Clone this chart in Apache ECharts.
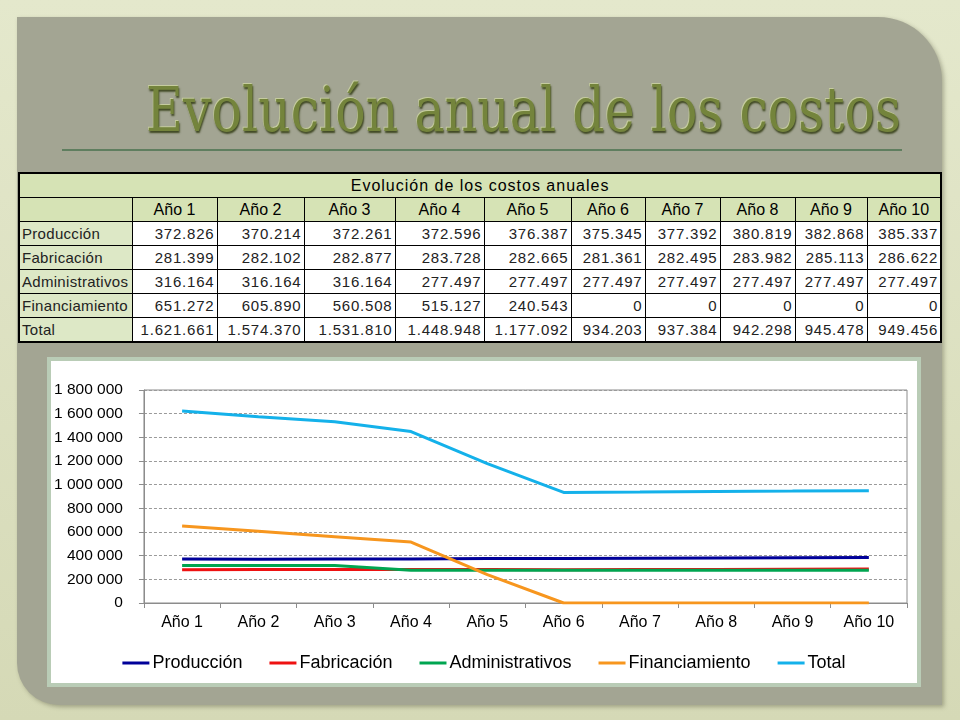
<!DOCTYPE html>
<html>
<head>
<meta charset="utf-8">
<script src="https://cdn.jsdelivr.net/npm/echarts@6/dist/echarts.min.js"></script>
<style>
  html, body { margin: 0; padding: 0; }
  body {
    width: 960px; height: 720px; overflow: hidden; position: relative;
    background: linear-gradient(180deg, #e4e8cc 0%, #d5d9b6 100%);
    font-family: "Liberation Sans", Arial, sans-serif;
  }
  #panel {
    position: absolute; left: 17px; top: 17px; width: 925px; height: 688px;
    background: #a3a593;
    border-radius: 0 64px 0 42px;
    box-shadow: 2px 2px 4px rgba(60, 60, 40, 0.35);
  }
  #title {
    position: absolute; left: 146px; top: 75px;
    display: inline-block; transform-origin: 0 0;
    font-family: "DejaVu Serif", "Liberation Serif", serif;
    font-size: 61px; line-height: 70px; color: #74843c; white-space: nowrap;
    text-shadow: 1px 2px 2px #3f4822, -1px -1px 0 #c5cc9e;
  }
  #rule {
    position: absolute; left: 62px; top: 149px; width: 840px; height: 2px;
    background: #5f7e5f;
  }
  #costTable {
    position: absolute; left: 18px; top: 172px; width: 922px;
    border-collapse: collapse; border: 2px solid #000;
    font-size: 15px; color: #222; background: #fff;
    table-layout: fixed;
  }
  #costTable td { border: 1px solid #000; height: 23px; padding: 0 3px; line-height: 23px; white-space: nowrap; overflow: hidden; }
  #costTable .hdr { background: #d6e3b5; text-align: center; font-size: 16px; color: #000; }
  #costTable .top { letter-spacing: 1px; }
  #costTable .lbl { background: #dde8c6; text-align: left; padding-left: 2px; letter-spacing: 0.3px; }
  #costTable .num { text-align: right; letter-spacing: 0.8px; padding-right: 2px; }
  #chartBox {
    position: absolute; left: 47px; top: 357px; width: 866px; height: 322px;
    background: #fff; border: 4px solid #b9ccb6;
  }
  #chart { position: absolute; left: 0; top: 0; width: 866px; height: 322px; }
</style>
</head>
<body>
<div id="panel"></div>
<div id="title">Evolución anual de los costos</div>
<div id="rule"></div>
<table id="costTable"></table>
<div id="chartBox"><div id="chart"></div></div>
<script>
  const years = ['Año 1', 'Año 2', 'Año 3', 'Año 4', 'Año 5', 'Año 6', 'Año 7', 'Año 8', 'Año 9', 'Año 10'];
  const produccion = [372826, 370214, 372261, 372596, 376387, 375345, 377392, 380819, 382868, 385337];
  const fabricacion = [281399, 282102, 282877, 283728, 282665, 281361, 282495, 283982, 285113, 286622];
  const administrativos = [316164, 316164, 316164, 277497, 277497, 277497, 277497, 277497, 277497, 277497];
  const financiamiento = [651272, 605890, 560508, 515127, 240543, 0, 0, 0, 0, 0];
  const total = [1621661, 1574370, 1531810, 1448948, 1177092, 934203, 937384, 942298, 945478, 949456];

  const rows = [
    { name: 'Producción', data: produccion, color: '#000099' },
    { name: 'Fabricación', data: fabricacion, color: '#ee1111' },
    { name: 'Administrativos', data: administrativos, color: '#00a550' },
    { name: 'Financiamiento', data: financiamiento, color: '#f7961e' },
    { name: 'Total', data: total, color: '#14b1ea' },
  ];

  // title: squeeze to the width of the original
  const titleEl = document.getElementById('title');
  titleEl.style.transform = `scaleX(${755 / titleEl.offsetWidth})`;

  // table
  const colWidths = [113, 85, 87, 91, 89, 87, 74, 75, 75, 72, 74];
  function fmtDots(v) {
    return String(v).replace(/\B(?=(\d{3})+(?!\d))/g, '.');
  }
  const tableEl = document.getElementById('costTable');
  let html = '<colgroup>' + colWidths.map((w) => `<col style="width:${w}px">`).join('') + '</colgroup>';
  html += '<tr><td class="hdr top" colspan="11">Evolución de los costos anuales</td></tr>';
  html += '<tr><td class="hdr"></td>' + years.map((y) => `<td class="hdr">${y}</td>`).join('') + '</tr>';
  rows.forEach((r) => {
    html += `<tr><td class="lbl">${r.name}</td>` + r.data.map((v) => `<td class="num">${fmtDots(v)}</td>`).join('') + '</tr>';
  });
  tableEl.innerHTML = html;

  // chart
  const chart = echarts.init(document.getElementById('chart'));
  const axisColor = '#8c8c8c';

  chart.setOption({
    animation: false,
    grid: { left: 89, top: 29, right: 10, bottom: 80, show: true, borderColor: axisColor, borderWidth: 1 },
    legend: {
      bottom: 6,
      left: 'center',
      icon: 'rect',
      itemWidth: 27,
      itemHeight: 3,
      itemGap: 27,
      textStyle: { color: '#000', fontFamily: 'Liberation Sans', fontSize: 18, padding: [0, 0, 0, -2] },
      data: rows.map((r) => r.name),
    },
    xAxis: {
      type: 'category',
      data: years,
      boundaryGap: true,
      axisLine: { lineStyle: { color: axisColor } },
      axisTick: { show: true, length: 5, lineStyle: { color: axisColor } },
      axisLabel: { margin: 12, color: '#000', fontFamily: 'Liberation Sans', fontSize: 16 },
    },
    yAxis: {
      type: 'value',
      min: 0,
      max: 1800000,
      interval: 200000,
      axisLine: { show: true, lineStyle: { color: axisColor } },
      axisTick: { show: true, length: 5, lineStyle: { color: axisColor } },
      splitLine: { lineStyle: { color: '#9a9a9a', type: [3, 2] } },
      axisLabel: {
        margin: 21,
        color: '#000',
        fontFamily: 'Liberation Sans',
        fontSize: 15.5,
        formatter: (v) => String(v).replace(/\B(?=(\d{3})+(?!\d))/g, ' '),
      },
    },
    series: rows.map((r) => ({
      name: r.name,
      type: 'line',
      data: r.data,
      symbol: 'none',
      lineStyle: { width: 3, color: r.color },
      itemStyle: { color: r.color },
    })),
  });
</script>
</body>
</html>
